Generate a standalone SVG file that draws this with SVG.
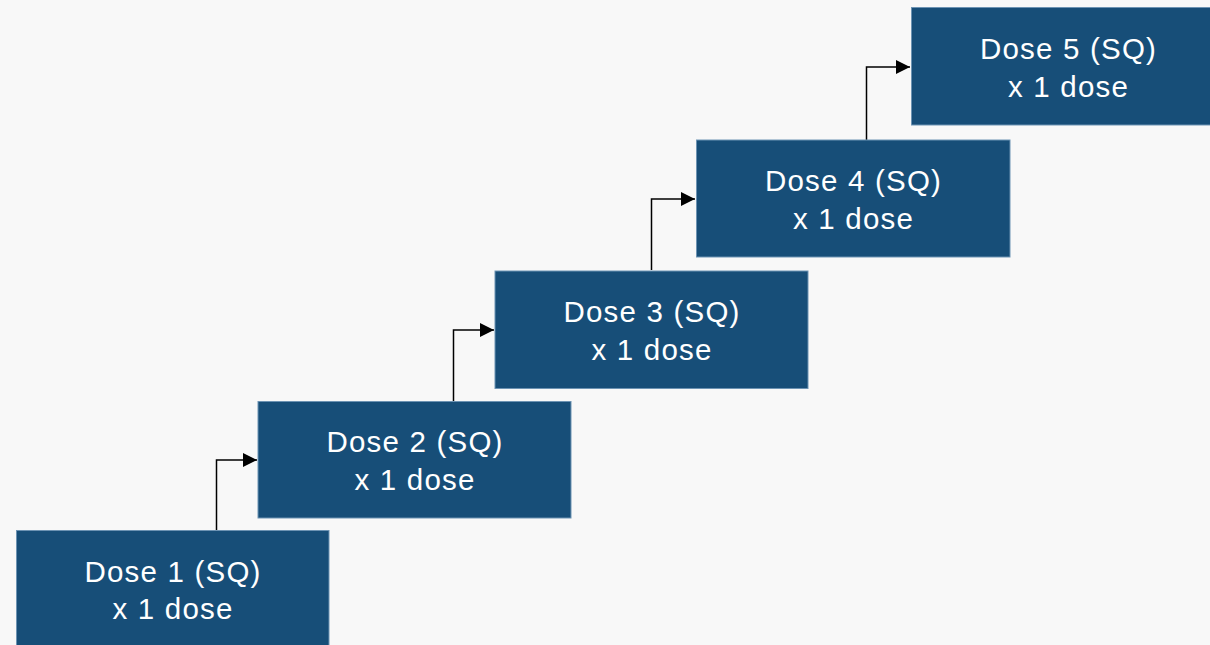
<svg xmlns="http://www.w3.org/2000/svg" width="1210" height="645" viewBox="0 0 1210 645">
<style>
.box{fill:#174e78;stroke:#6d93b3;stroke-width:1}
.t{font-family:"Liberation Sans",Arial,sans-serif;font-size:29.5px;letter-spacing:1.2px;fill:#ffffff;text-anchor:middle}
.c{fill:none;stroke:#000;stroke-width:1.5}
</style>
<defs>
<marker id="a" viewBox="0 0 14 14" refX="14" refY="7" markerWidth="14" markerHeight="14" markerUnits="userSpaceOnUse" orient="auto"><path d="M0,0 L14,7 L0,14 z" fill="#000"/></marker>
</defs>
<rect width="1210" height="645" fill="#f8f8f8"/>
<g id="connectors">
<path class="c" d="M216.5,530 V460 H257" marker-end="url(#a)"/>
<path class="c" d="M453.5,401 V330 H494" marker-end="url(#a)"/>
<path class="c" d="M651.5,270 V199 H695" marker-end="url(#a)"/>
<path class="c" d="M866.5,140 V67 H910" marker-end="url(#a)"/>
</g>
<g id="n1"><rect class="box" x="16.5" y="530.5" width="312.5" height="125"/><text class="t" x="173" y="582">Dose 1 (SQ)</text><text class="t" x="173" y="619">x 1 dose</text></g>
<g id="n2"><rect class="box" x="258" y="401.5" width="313" height="116.5"/><text class="t" x="415" y="452">Dose 2 (SQ)</text><text class="t" x="415" y="490">x 1 dose</text></g>
<g id="n3"><rect class="box" x="495" y="271" width="313" height="117.5"/><text class="t" x="652" y="322">Dose 3 (SQ)</text><text class="t" x="652" y="360">x 1 dose</text></g>
<g id="n4"><rect class="box" x="696.5" y="140" width="313.5" height="117"/><text class="t" x="853.5" y="191">Dose 4 (SQ)</text><text class="t" x="853.5" y="229">x 1 dose</text></g>
<g id="n5"><rect class="box" x="911.5" y="7.5" width="310" height="117.5"/><text class="t" x="1068.5" y="59">Dose 5 (SQ)</text><text class="t" x="1068.5" y="97">x 1 dose</text></g>
</svg>
